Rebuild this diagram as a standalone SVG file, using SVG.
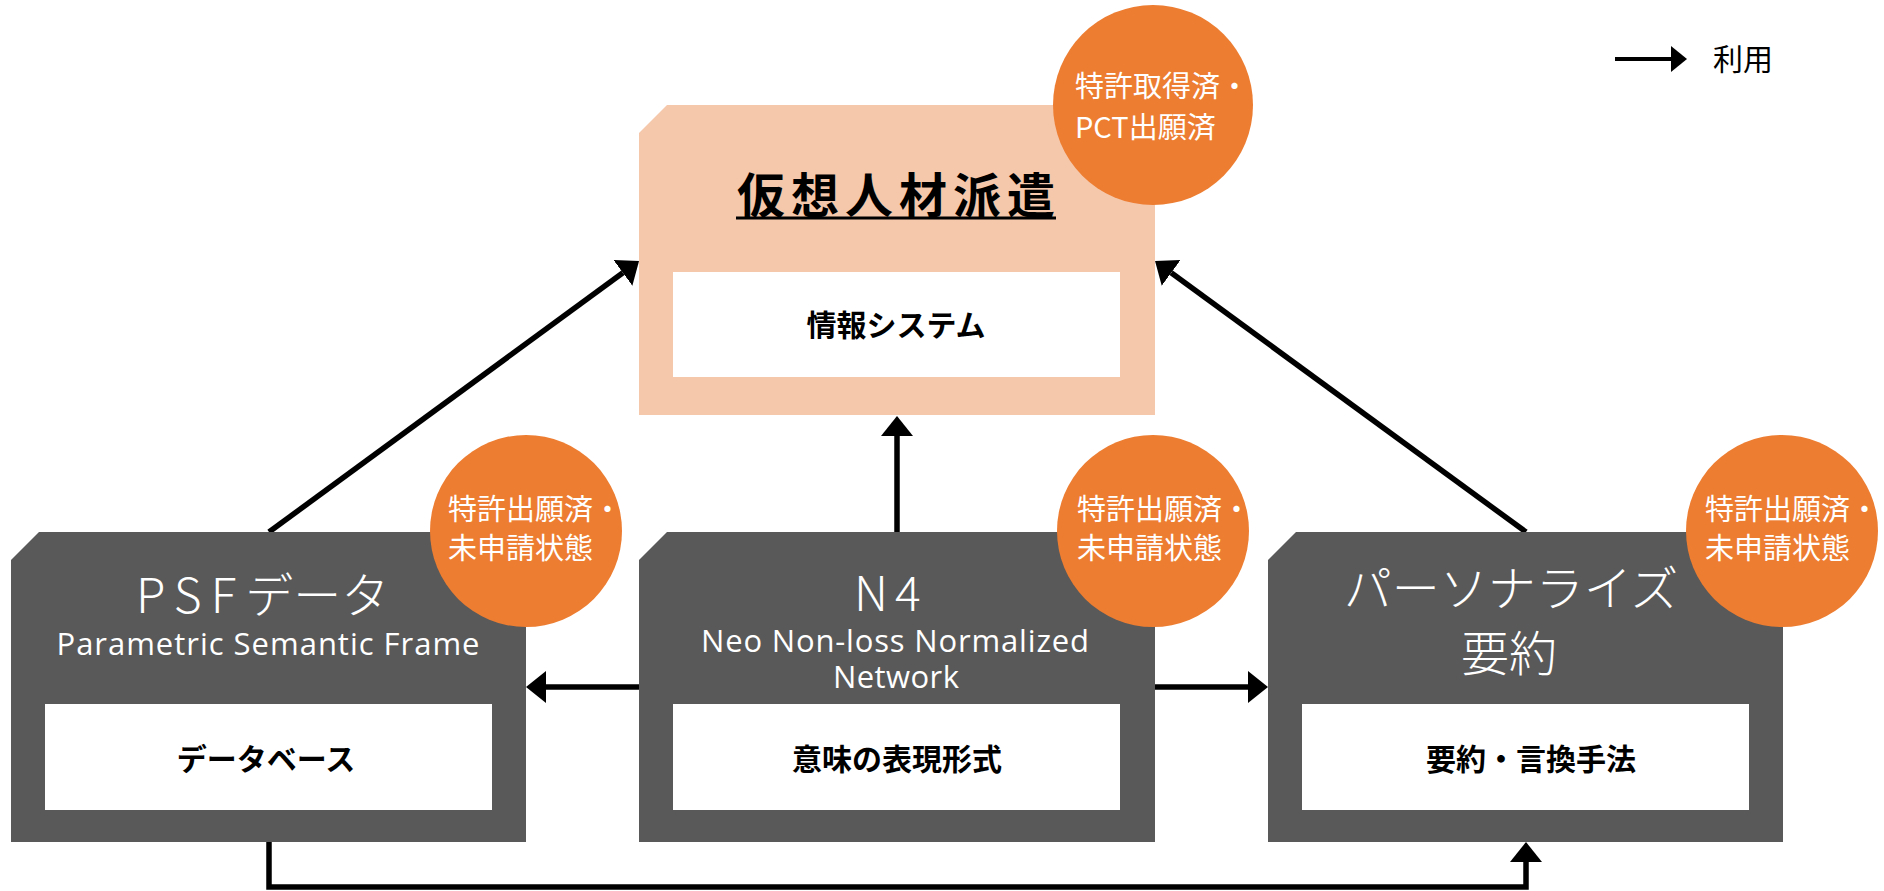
<svg xmlns="http://www.w3.org/2000/svg" width="1884" height="891" viewBox="0 0 1884 891">
  <style>
    text { font-family: "Noto Sans CJK JP", "Noto Sans", sans-serif; }
    .box { fill: #595959; }
    .pink { fill: #F5C8AC; }
    .inner { fill: #FFFFFF; }
    .badge { fill: #ED7D31; }
    .badgeText { fill: #FFFFFF; font-size: 29px; }
    .title { fill: #FFFFFF; font-size: 48px; font-weight: 300; }
    .mid { text-anchor: middle; }
    .sub { fill: #FFFFFF; font-family: "Open Sans", "Noto Sans", sans-serif; font-size: 31px; font-weight: 400; text-anchor: middle; }
    .label { fill: #000000; font-size: 30px; font-weight: 700; text-anchor: middle; }
    .conn { fill: none; stroke: #000000; stroke-width: 5.5; }
  </style>
  <defs>
    <marker id="arrow" markerUnits="userSpaceOnUse" viewBox="0 0 20 32" refX="0" refY="16" markerWidth="20" markerHeight="32" orient="auto">
      <path d="M0,0 L20,16 L0,32 Z" fill="#000000"/>
    </marker>
    <marker id="arrowSmall" markerUnits="userSpaceOnUse" viewBox="0 0 16 26" refX="0" refY="13" markerWidth="16" markerHeight="26" orient="auto">
      <path d="M0,0 L16,13 L0,26 Z" fill="#000000"/>
    </marker>
  </defs>

  <g id="connectors">
    <line class="conn" x1="269" y1="532" x2="622.9" y2="272.8" marker-end="url(#arrow)"/>
    <line class="conn" x1="1526" y1="532" x2="1171.2" y2="272.8" marker-end="url(#arrow)"/>
    <line class="conn" x1="897" y1="532" x2="897" y2="436" marker-end="url(#arrow)"/>
    <line class="conn" x1="639" y1="687" x2="546" y2="687" marker-end="url(#arrow)"/>
    <line class="conn" x1="1154" y1="687" x2="1248" y2="687" marker-end="url(#arrow)"/>
    <path class="conn" d="M269,842 V887 H1526 V862" marker-end="url(#arrow)"/>
  </g>

  <g id="legend">
    <line x1="1615" y1="59" x2="1671" y2="59" stroke="#000000" stroke-width="4" marker-end="url(#arrowSmall)"/>
    <text x="1713" y="70" font-size="30" fill="#000000">利用</text>
  </g>

  <g id="node-virtual-staffing">
    <path class="pink" d="M667,105 H1155 V415 H639 V133 Z"/>
    <text x="896" y="213" font-size="48" font-weight="700" fill="#000000" text-anchor="middle" textLength="318" lengthAdjust="spacing">仮想人材派遣</text>
    <line x1="736" y1="218" x2="1056" y2="218" stroke="#000000" stroke-width="3"/>
    <rect class="inner" x="673" y="272" width="447" height="105"/>
    <text class="label" x="896" y="336">情報システム</text>
  </g>

  <g id="node-psf">
    <path class="box" d="M39,532 H526 V842 H11 V560 Z"/>
    <text class="title" x="136" y="613"><tspan letter-spacing="9">PSF</tspan><tspan letter-spacing="0">データ</tspan></text>
    <text class="sub" x="268" y="655" textLength="423" lengthAdjust="spacing">Parametric Semantic Frame</text>
    <rect class="inner" x="45" y="704" width="447" height="106"/>
    <text class="label" x="266" y="770">データベース</text>
  </g>

  <g id="node-n4">
    <path class="box" d="M667,532 H1155 V842 H639 V560 Z"/>
    <text class="title" x="854" y="611" font-size="52" letter-spacing="7">N4</text>
    <text class="sub" x="895" y="652" textLength="388" lengthAdjust="spacing">Neo Non-loss Normalized</text>
    <text class="sub" x="896" y="688" textLength="126" lengthAdjust="spacing">Network</text>
    <rect class="inner" x="673" y="704" width="447" height="106"/>
    <text class="label" x="897" y="770">意味の表現形式</text>
  </g>

  <g id="node-personalize">
    <path class="box" d="M1296,532 H1783 V842 H1268 V560 Z"/>
    <text class="title mid" x="1511" y="606">パーソナライズ</text>
    <text class="title mid" x="1509" y="671">要約</text>
    <rect class="inner" x="1302" y="704" width="447" height="106"/>
    <text class="label" x="1531" y="770">要約・言換手法</text>
  </g>

  <g id="badge-top">
    <circle class="badge" cx="1153" cy="105" r="100"/>
    <text class="badgeText" x="1075" y="97">特許取得済・</text>
    <text class="badgeText" x="1075" y="138">PCT出願済</text>
  </g>

  <g id="badge-psf">
    <circle class="badge" cx="526" cy="531" r="96"/>
    <text class="badgeText" x="448" y="520">特許出願済・</text>
    <text class="badgeText" x="448" y="559">未申請状態</text>
  </g>

  <g id="badge-n4">
    <circle class="badge" cx="1153" cy="531" r="96"/>
    <text class="badgeText" x="1077" y="520">特許出願済・</text>
    <text class="badgeText" x="1077" y="559">未申請状態</text>
  </g>

  <g id="badge-personalize">
    <circle class="badge" cx="1782" cy="531" r="96"/>
    <text class="badgeText" x="1705" y="520">特許出願済・</text>
    <text class="badgeText" x="1705" y="559">未申請状態</text>
  </g>
</svg>
